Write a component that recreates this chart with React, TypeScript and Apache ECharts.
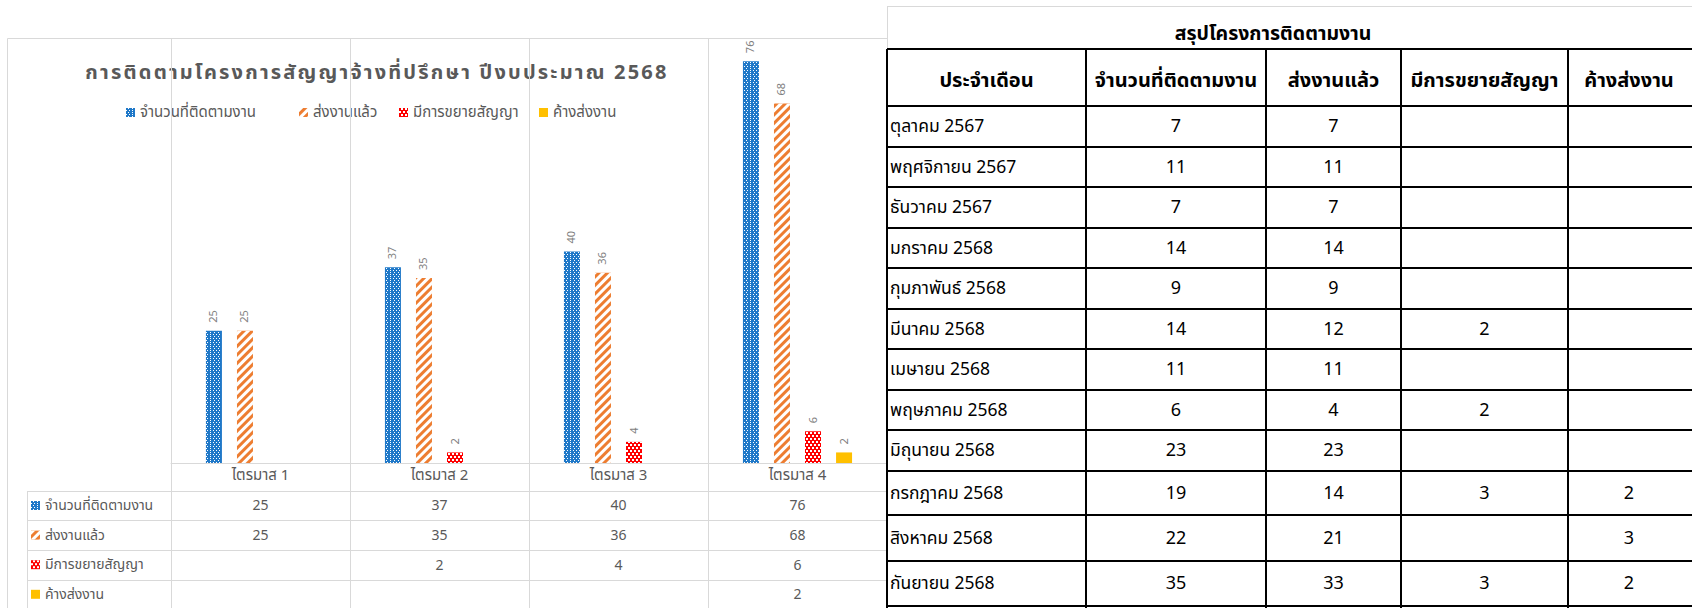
import React, { useEffect, useRef } from 'react';
import * as echarts from 'echarts';

// ---------- chart data ----------
const QUARTERS = ['ไตรมาส 1', 'ไตรมาส 2', 'ไตรมาส 3', 'ไตรมาส 4'];
const SERIES_NAMES = ['จำนวนที่ติดตามงาน', 'ส่งงานแล้ว', 'มีการขยายสัญญา', 'ค้างส่งงาน'];
const Q_TRACKED: (number | null)[] = [25, 37, 40, 76];
const Q_DELIVERED: (number | null)[] = [25, 35, 36, 68];
const Q_EXTENDED: (number | null)[] = [null, 2, 4, 6];
const Q_PENDING: (number | null)[] = [null, null, null, 2];
const CHART_TITLE = 'การติดตามโครงการสัญญาจ้างที่ปรึกษา ปีงบประมาณ 2568';

// ---------- summary table data ----------
const TABLE_TITLE = 'สรุปโครงการติดตามงาน';
const TABLE_HEADERS = ['ประจำเดือน', 'จำนวนที่ติดตามงาน', 'ส่งงานแล้ว', 'มีการขยายสัญญา', 'ค้างส่งงาน'];
const MONTHS = [
  'ตุลาคม 2567', 'พฤศจิกายน 2567', 'ธันวาคม 2567', 'มกราคม 2568', 'กุมภาพันธ์ 2568', 'มีนาคม 2568',
  'เมษายน 2568', 'พฤษภาคม 2568', 'มิถุนายน 2568', 'กรกฎาคม 2568', 'สิงหาคม 2568', 'กันยายน 2568',
];
const M_TRACKED: (number | null)[] = [7, 11, 7, 14, 9, 14, 11, 6, 23, 19, 22, 35];
const M_DELIVERED: (number | null)[] = [7, 11, 7, 14, 9, 12, 11, 4, 23, 14, 21, 33];
const M_EXTENDED: (number | null)[] = [null, null, null, null, null, 2, null, 2, null, 3, null, 3];
const M_PENDING: (number | null)[] = [null, null, null, null, null, null, null, null, null, 2, 3, 2];

const FONT = "'Noto Sans Thai', 'Noto Sans', sans-serif";
const GRAY = '#595959';
const GRID_LINE = '#d9d9d9';

const COLORS = ['#1f78c8', '#ed7d31', '#ff0000', '#ffc000'];
const DECALS: any[] = [
  { symbol: 'rect', symbolSize: 1, color: '#ffffff', dashArrayX: [[1, 2], [0, 1.5, 1, 0.5]], dashArrayY: [1, 0.5] },
  { symbol: 'rect', symbolSize: 1, color: '#ffffff', dashArrayX: [1, 0], dashArrayY: [2.2, 2.2], rotation: -Math.PI / 4 },
  { symbol: 'rect', symbolSize: 1, color: '#ffffff', dashArrayX: [[1.5, 1.5], [0, 1.5, 1.5, 0]], dashArrayY: [1.5, 0.01] },
  'none',
];
// legend item left positions (layout)
const LEGEND_LEFT = [126, 299, 399, 539];

export default function App() {
  const ref = useRef<HTMLDivElement>(null);
  useEffect(() => {
    document.body.style.margin = '0';
    const chart = echarts.init(ref.current!, null, { renderer: 'svg' });
    const qData = [Q_TRACKED, Q_DELIVERED, Q_EXTENDED, Q_PENDING];
    const series = SERIES_NAMES.map((name, i) => ({
      name,
      type: 'bar',
      data: qData[i],
      barWidth: 16,
      barGap: '94%',
      itemStyle: { color: COLORS[i], decal: DECALS[i] },
      label: {
        show: true, position: 'top', rotate: 90, align: 'left', verticalAlign: 'middle',
        distance: 8, fontSize: 11, color: '#7f7f7f', fontFamily: FONT,
      },
    }));
    const legendCommon = {
      selectedMode: false,
      itemWidth: 9,
      itemHeight: 9,
      icon: 'rect',
      padding: 0,
    };
    const legends: any[] = SERIES_NAMES.map((n, i) => ({
      ...legendCommon, left: LEGEND_LEFT[i], top: 104, data: [n],
      textStyle: { fontSize: 15, color: GRAY, fontFamily: FONT, lineHeight: 17 },
    }));
    legends.push({
      ...legendCommon, orient: 'vertical', left: 31, top: 497.5, itemGap: 13.6, height: 120, data: SERIES_NAMES,
      textStyle: { fontSize: 14, color: GRAY, fontFamily: FONT, lineHeight: 16 },
    });
    chart.setOption({
      animation: false,
      backgroundColor: '#ffffff',
      title: {
        text: CHART_TITLE, left: 372, top: 58, textAlign: 'center',
        textStyle: { fontSize: 20, fontWeight: 'bold', color: GRAY, fontFamily: FONT },
      },
      legend: legends,
      grid: { left: 171, right: 805, top: 40, bottom: 145, containLabel: false },
      xAxis: {
        type: 'category', data: QUARTERS,
        axisLine: { lineStyle: { color: GRID_LINE } },
        axisTick: { show: false },
        splitLine: { show: false },
        axisLabel: { fontSize: 15, color: GRAY, fontFamily: FONT, margin: 5 },
      },
      yAxis: { type: 'value', min: 0, max: 80, show: false, splitLine: { show: false } },
      series,
    });

    // positions through the category axis
    const centers = QUARTERS.map((_, i) => chart.convertToPixel({ xAxisIndex: 0 }, i) as number);
    const half = (centers[1] - centers[0]) / 2;
    const bounds = [centers[0] - half, ...centers.map((c) => c + half)];
    const g: any[] = [];
    const ln = (x1: number, y1: number, x2: number, y2: number, stroke: string, w = 1) =>
      g.push({ type: 'line', silent: true, shape: { x1, y1, x2, y2 }, style: { stroke, lineWidth: w }, z: 10 });
    const tx = (text: string, x: number, y: number, o: any = {}) =>
      g.push({
        type: 'text', silent: true, z: 11,
        style: {
          text, x, y, fill: o.fill || '#000', fontSize: o.size || 13, fontWeight: o.weight || 'normal',
          fontFamily: FONT, align: o.align || 'center', textAlign: o.align || 'center',
          verticalAlign: 'middle', textVerticalAlign: 'middle',
        },
      });

    // left chart frame
    const right = bounds[bounds.length - 1];
    ln(7.5, 38.5, right, 38.5, GRID_LINE);
    ln(7.5, 38.5, 7.5, 608, GRID_LINE);
    // vertical category lines
    bounds.slice(0, -1).forEach((b) => ln(Math.round(b) + 0.5, 38.5, Math.round(b) + 0.5, 608, GRID_LINE));
    // data table
    const dtRows = [491, 520, 550, 580];
    dtRows.forEach((y) => ln(27.5, y + 0.5, right, y + 0.5, GRID_LINE));
    ln(27.5, 491, 27.5, 608, GRID_LINE);
    const dtCenters = [505.5, 535, 565, 594.5];
    qData.forEach((arr, s) =>
      arr.forEach((v, i) => {
        if (v != null) tx(String(v), centers[i], dtCenters[s], { fill: GRAY, size: 14 });
      })
    );

    // summary table
    const colX = [887, 1086, 1266, 1401, 1568, 1692];
    const rowY = [49, 106, 147, 187, 228, 268, 309, 349, 390, 430, 471, 515, 561, 606];
    g.push({ type: 'rect', silent: true, z: 9, shape: { x: 888, y: 7, width: 804, height: 601 }, style: { fill: '#fff' } });
    ln(887, 6.5, 1692, 6.5, GRID_LINE);
    ln(887.5, 6.5, 887.5, 49, GRID_LINE);
    rowY.forEach((y) => ln(887, y, 1692, y, '#000', 2));
    colX.slice(0, -1).forEach((x) => ln(x, 49, x, 608, '#000', 2));
    tx(TABLE_TITLE, 1273, 34, { size: 19.5, weight: 'bold' });
    TABLE_HEADERS.forEach((h, i) => {
      const cx = i < 4 ? (colX[i] + colX[i + 1]) / 2 : 1629;
      tx(h, cx, 81, { size: 20, weight: 'bold' });
    });
    const mData = [M_TRACKED, M_DELIVERED, M_EXTENDED, M_PENDING];
    MONTHS.forEach((m, r) => {
      const cy = (rowY[r + 1] + rowY[r + 2]) / 2;
      tx(m, 890, cy, { size: 17.5, align: 'left' });
      mData.forEach((arr, c) => {
        const v = arr[r];
        if (v == null) return;
        const cx = c < 3 ? (colX[c + 1] + colX[c + 2]) / 2 : 1629;
        tx(String(v), cx, cy, { size: 18 });
      });
    });

    chart.setOption({ graphic: { elements: g } });
    // letter-spaced chart title, as in the reference
    ref.current!.querySelectorAll('text').forEach((t) => {
      if (t.textContent === CHART_TITLE) t.setAttribute('letter-spacing', '2.2');
    });
    return () => chart.dispose();
  }, []);
  return (
    <div
      ref={ref}
      style={{ position: 'absolute', left: 0, top: 0, width: 1692, height: 608 }}
    />
  );
}
